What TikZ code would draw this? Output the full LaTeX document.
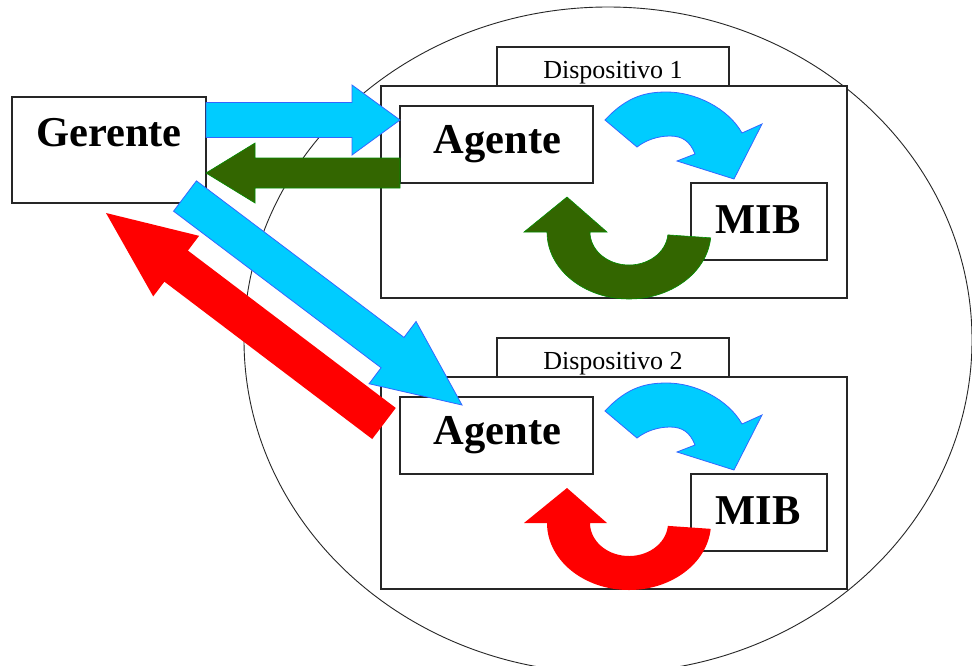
\documentclass[tikz,border=0pt]{standalone}
\usepackage{fontspec}
\setmainfont{Liberation Serif}
\usetikzlibrary{calc}
\definecolor{cy}{RGB}{0,204,255}
\definecolor{cyedge}{RGB}{51,102,255}
\definecolor{dgreen}{RGB}{51,102,0}
\definecolor{gedge}{RGB}{0,140,0}
\definecolor{rd}{RGB}{255,0,0}
\tikzset{
  box/.style={draw=black!85, line width=1.1pt, fill=white, inner sep=0pt, outer sep=0pt},
  bigtxt/.style={font=\bfseries\fontsize{42.5}{42.5}\selectfont, inner sep=0pt, anchor=base},
  tabtxt/.style={font=\fontsize{26}{26}\selectfont, inner sep=0pt, anchor=base},
  cyarrow/.style={fill=cy, draw=cyedge, line width=0.8pt, line join=miter},
  grarrow/.style={fill=dgreen, draw=gedge, line width=0.6pt, line join=miter},
  rdarrow/.style={fill=rd, line join=miter},
}
% #1 style, #2 tail, #3 tip, #4 shaft half width, #5 head half width, #6 head length
\newcommand\blkarrow[6]{%
  \coordinate (ba-b) at ($(#3)!#6!(#2)$);
  \path[#1] ($(#2)!#4!90:(#3)$) -- ($(ba-b)!#4!90:(#3)$) -- ($(ba-b)!#5!90:(#3)$)
    -- (#3) -- ($(ba-b)!#5!-90:(#3)$) -- ($(ba-b)!#4!-90:(#3)$) -- ($(#2)!#4!-90:(#3)$) -- cycle;
}
% #1 index, #2 vertical offset, #3 style of the lower curved arrow
\newcommand\devpanel[3]{%
  \begin{scope}[shift={(0,#2)}]
    \node[box, minimum width=232pt, minimum height=39pt] (tab#1) at (613,66.5) {};
    \node[tabtxt] (tab#1t) at (613,78) {Dispositivo #1};
    \node[box, minimum width=466pt, minimum height=212pt] (dev#1) at (614,192) {};
    \node[box, minimum width=193pt, minimum height=77pt] (ag#1) at (496.5,144.5) {};
    \node[bigtxt] (ag#1t) at (497.5,153) {Agente};
    \node[box, minimum width=136pt, minimum height=77pt] (mib#1) at (759,221.5) {};
    \node[bigtxt] (mib#1t) at (758,233) {MIB};
    \path[cyarrow] (605,120) .. controls (628,95) and (648,92) .. (667,92)
      .. controls (695,92) and (728,108) .. (742,133) -- (762,124) -- (734,179)
      -- (677,161) -- (695,154) .. controls (690,141) and (682,136) .. (670,136)
      .. controls (658,136) and (646,140) .. (637,147) -- cycle;
    \path[#3] (547,232) arc[start angle=180, end angle=5, x radius=82, y radius=67]
      -- (667.85,234.88) arc[start angle=5, end angle=180, x radius=39, y radius=33]
      -- (607,232) -- (567,197) -- (524,232) -- cycle;
  \end{scope}
}
\begin{document}
\begin{tikzpicture}[x=1pt,y=-1pt]
\useasboundingbox (0,0) rectangle (972,665);
\fill[white] (0,0) rectangle (972,665);
\draw[line width=0.9pt, black!85] (608,340) ellipse [x radius=364, y radius=333];
\node[box, minimum width=194pt, minimum height=106pt] (ger) at (109,150) {};
\node[bigtxt] (gert) at (109,146) {Gerente};
\devpanel{1}{0}{grarrow}
\devpanel{2}{291}{rdarrow}
% connectors
\coordinate (r1t) at ($(ger.east)+(0,-30)$);
\coordinate (r1h) at ($(ag1.west)+(0,-24.5)$);
\blkarrow{cyarrow}{r1t}{r1h}{17.5pt}{35pt}{48pt}
\coordinate (g1t) at ($(ag1.west)+(0,28.5)$);
\coordinate (g1h) at ($(ger.east)+(0,23)$);
\blkarrow{grarrow}{g1t}{g1h}{15pt}{30pt}{49pt}
\coordinate (r2t) at ($(ag2.west)+(-16,-12)$);
\coordinate (r2h) at ($(ger.south)+(-3,10)$);
\blkarrow{rdarrow}{r2t}{r2h}{19.5pt}{38pt}{88pt}
\coordinate (c2t) at ($(ger.south east)+(-21,-7)$);
\coordinate (c2h) at ($(ag2.north west)+(62,8)$);
\blkarrow{cyarrow}{c2t}{c2h}{19pt}{39pt}{87pt}
\end{tikzpicture}
\end{document}
